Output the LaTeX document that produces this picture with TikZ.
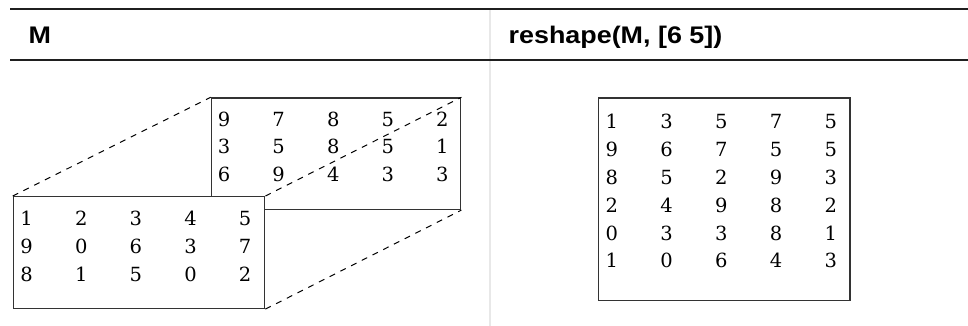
\documentclass[tikz,border=0pt]{standalone}
\usepackage{fontspec}
\newfontfamily\hdrfont[FakeStretch=1.12]{Liberation Sans Bold}
\newfontfamily\numfont{DejaVu Serif}
\begin{document}
\begin{tikzpicture}[x=1pt,y=-1pt,
  rule/.style={line width=2pt, draw=black!88},
  sepline/.style={line width=2pt, draw=black!9},
  mbox/.style={draw=black!80, line width=1.4pt, fill=white, rectangle, inner sep=0pt, anchor=north west},
  num/.style={font=\numfont\fontsize{19.5}{19.5}\selectfont, anchor=base, inner sep=0pt},
  hdr/.style={font=\hdrfont\fontsize{24}{24}\selectfont, anchor=base west, inner sep=0pt},
  link/.style={dash pattern=on 6pt off 6pt, line width=1pt}
]
\useasboundingbox (0,0) rectangle (968,326);
% separator and rules
\coordinate (sepT) at (490,9);
\coordinate (sepB) at (490,326);
\draw[sepline] (sepT) -- (sepB);
\coordinate (r1L) at (10,9);
\coordinate (r1R) at (968,9);
\coordinate (r2L) at (10,60.5);
\coordinate (r2R) at (968,60.5);
\draw[rule] (r1L) -- (r1R);
\draw[rule] (r2L) -- (r2R);
% headers
\node[hdr] (hM) at (28.5,43.5) {M};
\node[hdr] (hR) at (508.5,43.5) {reshape(M, [6 5])};
% back box
\node[mbox, minimum width=249.3pt, minimum height=111.4pt] (back) at (210.7,97.3) {};
\foreach \row [count=\r] in {{9,7,8,5,2},{3,5,8,5,1},{6,9,4,3,3}} {
  \foreach \v [count=\c] in \row {
    \node[num] (b-\r-\c) at ({224+54.6*(\c-1)}, {119+27.7*(\r-1)+7}) {\v};
  }
}
% front box
\node[mbox, minimum width=251.3pt, minimum height=111.7pt] (front) at (12.7,196) {};
\foreach \row [count=\r] in {{1,2,3,4,5},{9,0,6,3,7},{8,1,5,0,2}} {
  \foreach \v [count=\c] in \row {
    \node[num] (f-\r-\c) at ({26.7+54.6*(\c-1)}, {218+28*(\r-1)+7}) {\v};
  }
}
% dashed links
\draw[link] (front.north west) -- (back.north west);
\draw[link] (front.north east) -- (back.north east);
\draw[link] (front.south east) -- (back.south east);
% right box
\node[mbox, minimum width=251.6pt, minimum height=202.7pt] (res) at (597.7,97.3) {};
\foreach \row [count=\r] in {{1,3,5,7,5},{9,6,7,5,5},{8,5,2,9,3},{2,4,9,8,2},{0,3,3,8,1},{1,0,6,4,3}} {
  \foreach \v [count=\c] in \row {
    \node[num] (r-\r-\c) at ({611.7+54.75*(\c-1)}, {121.7+27.85*(\r-1)+7}) {\v};
  }
}
\end{tikzpicture}
\end{document}
